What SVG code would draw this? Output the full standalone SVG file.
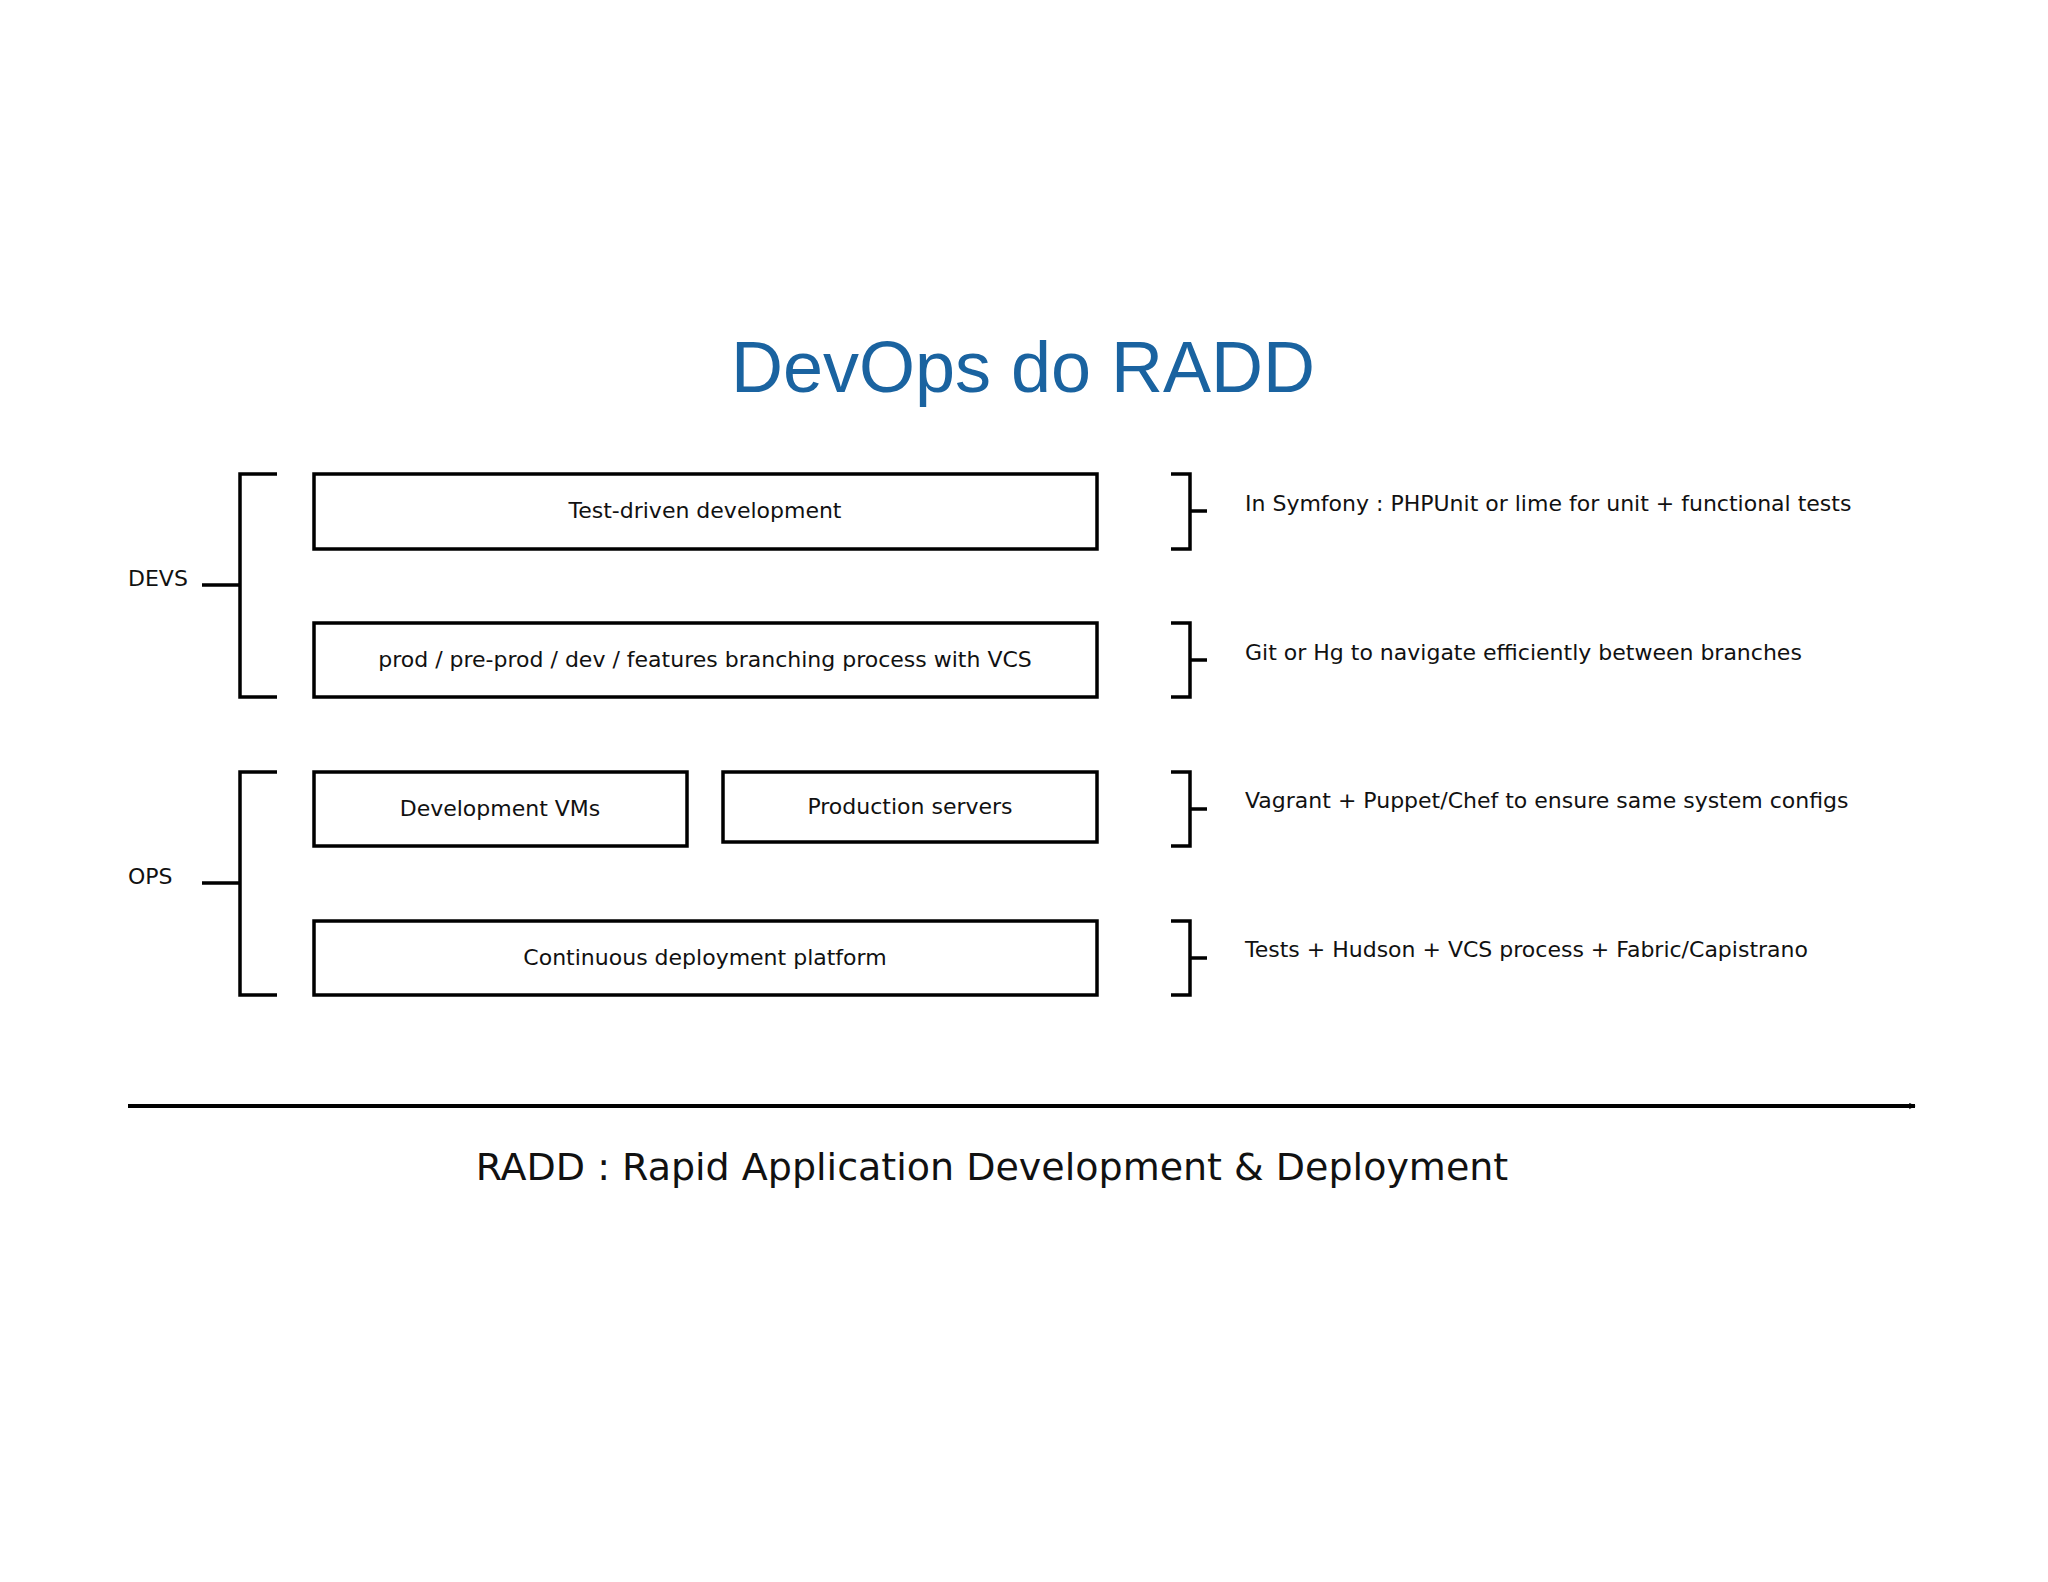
<svg xmlns="http://www.w3.org/2000/svg" width="2048" height="1582" viewBox="0 0 2048 1582">
<style>
.box{fill:#fff;stroke:#000;stroke-width:3.5}
.ln{fill:none;stroke:#000;stroke-width:3.5}
.t{font-family:"DejaVu Sans",sans-serif;font-size:22px;fill:#111}
.c{text-anchor:middle}
</style>
<defs><marker id="ah" viewBox="0 0 10 10" refX="9" refY="5" markerWidth="7" markerHeight="7" orient="auto" markerUnits="userSpaceOnUse" ><path d="M0,0 L10,5 L0,10 L3,5 z" fill="#000"/></marker></defs>
<rect width="2048" height="1582" fill="#fff"/>
<text x="1023" y="392" text-anchor="middle" font-family="Liberation Sans, sans-serif" font-size="72" fill="#1a63a0">DevOps do RADD</text>
<g id="devs"><text class="t" x="128" y="586">DEVS</text><path class="ln" d="M277,474 H240 V697 H277 M240,585 H202"/></g>
<g id="ops"><text class="t" x="128" y="884">OPS</text><path class="ln" d="M277,772 H240 V995 H277 M240,883 H202"/></g>
<g id="tdd"><rect class="box" x="314" y="474" width="783" height="75"/><text class="t c" x="705" y="518">Test-driven development</text></g>
<g id="branch"><rect class="box" x="314" y="623" width="783" height="74"/><text class="t c" x="705" y="667">prod / pre-prod / dev  / features branching process with VCS</text></g>
<g id="vms"><rect class="box" x="314" y="772" width="373" height="74"/><text class="t c" x="500" y="816">Development VMs</text></g>
<g id="prod"><rect class="box" x="723" y="772" width="374" height="70"/><text class="t c" x="910" y="814">Production servers</text></g>
<g id="cd"><rect class="box" x="314" y="921" width="783" height="74"/><text class="t c" x="705" y="965">Continuous deployment platform</text></g>
<g id="notes">
<path class="ln" d="M1171,474 H1190 V549 H1171 M1190,511 H1207"/>
<path class="ln" d="M1171,623 H1190 V697 H1171 M1190,660 H1207"/>
<path class="ln" d="M1171,772 H1190 V846 H1171 M1190,809 H1207"/>
<path class="ln" d="M1171,921 H1190 V995 H1171 M1190,958 H1207"/>
<text class="t" x="1245" y="511">In Symfony : PHPUnit or lime for unit + functional tests</text>
<text class="t" x="1245" y="660">Git or Hg to navigate efficiently between branches</text>
<text class="t" x="1245" y="808">Vagrant + Puppet/Chef to ensure same system configs</text>
<text class="t" x="1245" y="957">Tests + Hudson + VCS process + Fabric/Capistrano</text>
</g>
<g id="connectors"><line x1="128" y1="1106" x2="1915" y2="1106" stroke="#000" stroke-width="4" marker-end="url(#ah)"/></g>
<text x="992" y="1180" text-anchor="middle" font-family="DejaVu Sans, sans-serif" font-size="38" fill="#111">RADD : Rapid Application Development &amp; Deployment</text>
</svg>
